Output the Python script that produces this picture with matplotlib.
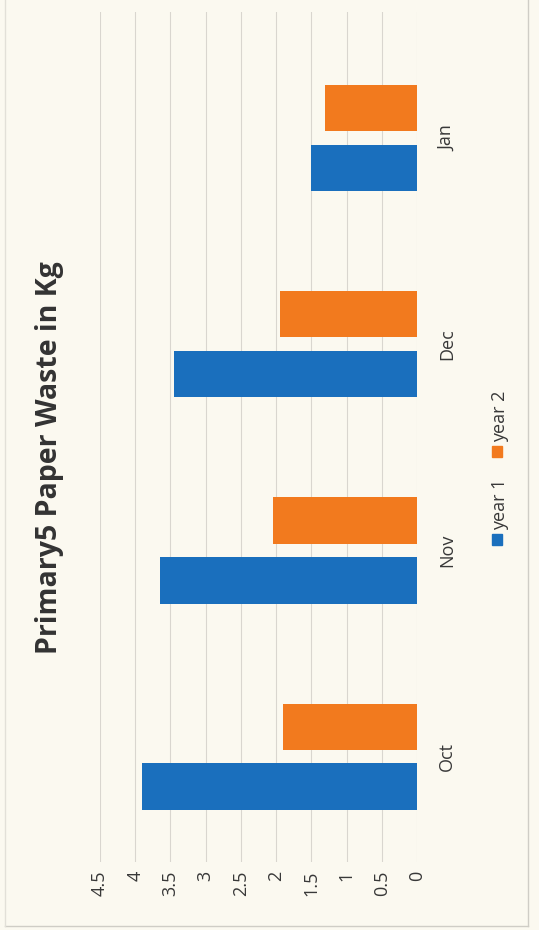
import matplotlib.pyplot as plt
import numpy as np
from matplotlib.patches import Rectangle
from matplotlib.lines import Line2D
from matplotlib.ticker import FuncFormatter

months = ["Oct", "Nov", "Dec", "Jan"]
year1 = [3.9, 3.65, 3.45, 1.5]
year2 = [1.9, 2.05, 1.95, 1.3]
series_names = ["year 1", "year 2"]
blue = "#1a6fbd"
orange = "#f27a1e"
paper = "#fbf9f0"
text_col = "#383838"

plt.rcParams['font.family'] = ['Open Sans', 'DejaVu Sans']

fig = plt.figure(figsize=(5.39, 9.30), dpi=100, facecolor=paper)
# chart is printed sideways: values run right-to-left, months bottom-to-top
ax = fig.add_axes([100 / 539, 68 / 930, 317 / 539, 850 / 930])
ax.set_facecolor(paper)

pos = np.arange(len(months))
h = 0.225
ax.barh(pos - 0.145, year1, height=h, color=blue, zorder=3)
ax.barh(pos + 0.145, year2, height=h, color=orange, zorder=3)

ax.set_xlim(4.5, 0)
ax.set_ylim(-0.51, 3.61)
ax.set_xticks(np.arange(0, 4.51, 0.5))
ax.xaxis.set_major_formatter(FuncFormatter(lambda v, p: "%g" % v))
ax.grid(axis="x", color="#d9d6cf", linewidth=0.8, zorder=0)
ax.tick_params(axis="x", length=0, pad=6, labelsize=13, labelcolor=text_col, labelrotation=90)

ax.set_yticks(pos)
ax.set_yticklabels(months)
ax.yaxis.tick_right()
ax.tick_params(axis="y", length=0, pad=15, labelsize=13, labelcolor=text_col)
for lbl in ax.get_yticklabels():
    lbl.set_rotation(90)
    lbl.set_va("center")

for s in ax.spines.values():
    s.set_visible(False)

fig.text(50 / 539, 1 - 458 / 930, "Primary5 Paper Waste in Kg", rotation=90,
         ha="center", va="center", fontsize=20.5, fontweight="bold", color="#333333")

# legend, drawn sideways to match the chart
fig.patches.append(Rectangle((492 / 539, 1 - 545 / 930), 10 / 539, 11 / 930,
                             transform=fig.transFigure, color=blue))
fig.text(500 / 539, 1 - 530 / 930, series_names[0], rotation=90, ha="center", va="bottom",
         fontsize=13, color=text_col)
fig.patches.append(Rectangle((492 / 539, 1 - 457 / 930), 10 / 539, 11 / 930,
                             transform=fig.transFigure, color=orange))
fig.text(500 / 539, 1 - 442 / 930, series_names[1], rotation=90, ha="center", va="bottom",
         fontsize=13, color=text_col)

# chart area border
fig.add_artist(Line2D([528 / 539, 528 / 539], [1 - 926 / 930, 1.0], transform=fig.transFigure,
                      color="#cfcdc6", linewidth=1))
fig.add_artist(Line2D([5 / 539, 528 / 539], [1 - 926 / 930, 1 - 926 / 930], transform=fig.transFigure,
                      color="#cfcdc6", linewidth=1))
fig.add_artist(Line2D([5 / 539, 5 / 539], [1 - 926 / 930, 1.0], transform=fig.transFigure,
                      color="#e2e0d8", linewidth=1))

fig.savefig("out.png", dpi=100, facecolor=paper)
